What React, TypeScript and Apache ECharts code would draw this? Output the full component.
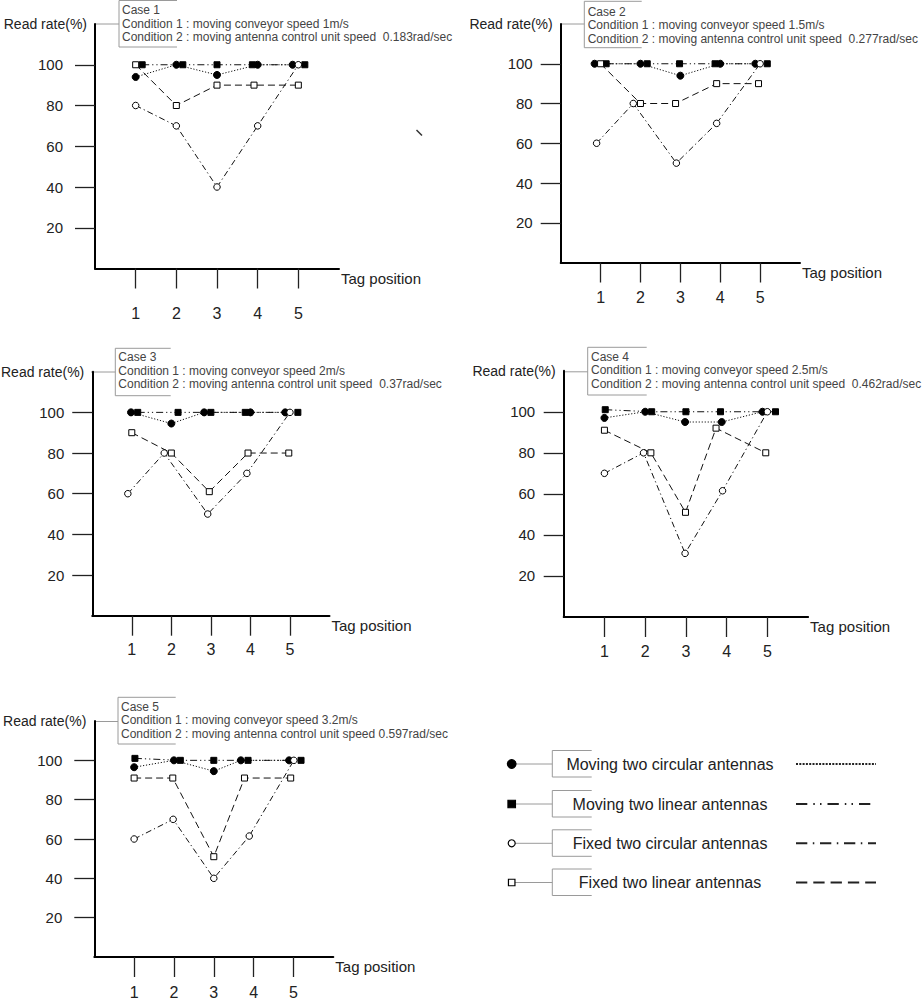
import React, { useEffect, useRef } from "react";
import * as echarts from "echarts";

// ---------- data ----------
const TAGS = [1, 2, 3, 4, 5];
const Y_TICKS = [20, 40, 60, 80, 100];
const SERIES_NAMES = [
  "Moving two circular antennas",
  "Moving two linear antennas",
  "Fixed two circular antennas",
  "Fixed two linear antennas",
];

const CASE_TEXTS = [
  ["Case 1", "Condition 1 : moving conveyor speed 1m/s", "Condition 2 : moving antenna control unit speed  0.183rad/sec"],
  ["Case 2", "Condition 1 : moving conveyor speed 1.5m/s", "Condition 2 : moving antenna control unit speed  0.277rad/sec"],
  ["Case 3", "Condition 1 : moving conveyor speed 2m/s", "Condition 2 : moving antenna control unit speed  0.37rad/sec"],
  ["Case 4", "Condition 1 : moving conveyor speed 2.5m/s", "Condition 2 : moving antenna control unit speed  0.462rad/sec"],
  ["Case 5", "Condition 1 : moving conveyor speed 3.2m/s", "Condition 2 : moving antenna control unit speed 0.597rad/sec"],
];

// Case 1
const C1_MC_X = [1, 2, 3, 4, 4.86];
const C1_MC = [94, 100, 95, 100, 100];
const C1_ML_X = [1.16, 2.16, 3, 3.87, 5.16];
const C1_ML = [100, 100, 100, 100, 100];
const C1_FC_X = [1, 2, 3, 4, 5];
const C1_FC = [80, 70, 40, 70, 100];
const C1_FL_X = [1, 2, 3, 3.91, 5];
const C1_FL = [100, 80, 90, 90, 90];

// Case 2
const C2_MC_X = [0.85, 2, 3, 4, 4.88];
const C2_MC = [100, 100, 94, 100, 100];
const C2_ML_X = [1.14, 2.17, 2.98, 3.87, 5.18];
const C2_ML = [100, 100, 100, 100, 100];
const C2_FC_X = [0.9, 1.82, 2.9, 3.91, 5];
const C2_FC = [60, 80, 50, 70, 100];
const C2_FL_X = [1, 2, 2.88, 3.91, 4.96];
const C2_FL = [100, 80, 80, 90, 90];

// Case 3
const C3_MC_X = [0.98, 2, 2.83, 4, 4.88];
const C3_MC = [100, 94.5, 100, 100, 100];
const C3_ML_X = [1.15, 2.17, 3, 3.87, 5.2];
const C3_ML = [100, 100, 100, 100, 100];
const C3_FC_X = [0.9, 1.82, 2.92, 3.91, 5];
const C3_FC = [60, 80, 50, 70, 100];
const C3_FL_X = [1, 2, 2.96, 3.94, 4.97];
const C3_FL = [90, 80, 61, 80, 80];

// Case 4
const C4_MC_X = [1, 2, 2.98, 3.88, 4.88];
const C4_MC = [97, 100, 95, 95, 100];
const C4_ML_X = [1.02, 2.16, 3, 3.85, 5.2];
const C4_ML = [101, 100, 100, 100, 100];
const C4_FC_X = [1, 1.96, 2.98, 3.9, 5];
const C4_FC = [70, 80, 31, 61.5, 100];
const C4_FL_X = [1, 2.14, 2.99, 3.74, 4.96];
const C4_FL = [91, 80, 51, 92, 80];

// Case 5
const C5_MC_X = [1, 2, 3, 3.68, 4.89];
const C5_MC = [96.5, 100, 94.5, 100, 100];
const C5_ML_X = [1.02, 2.16, 3, 3.86, 5.19];
const C5_ML = [101, 100, 100, 100, 100];
const C5_FC_X = [1, 1.98, 3, 3.89, 5.01];
const C5_FC = [60, 70, 40, 61.5, 100];
const C5_FL_X = [1, 1.97, 3, 3.77, 4.93];
const C5_FL = [91, 91, 51, 91, 91];

const CASE_SERIES = [
  [[C1_MC_X, C1_MC], [C1_ML_X, C1_ML], [C1_FC_X, C1_FC], [C1_FL_X, C1_FL]],
  [[C2_MC_X, C2_MC], [C2_ML_X, C2_ML], [C2_FC_X, C2_FC], [C2_FL_X, C2_FL]],
  [[C3_MC_X, C3_MC], [C3_ML_X, C3_ML], [C3_FC_X, C3_FC], [C3_FL_X, C3_FL]],
  [[C4_MC_X, C4_MC], [C4_ML_X, C4_ML], [C4_FC_X, C4_FC], [C4_FL_X, C4_FL]],
  [[C5_MC_X, C5_MC], [C5_ML_X, C5_ML], [C5_FC_X, C5_FC], [C5_FL_X, C5_FL]],
];

// ---------- layout & style ----------
const FONT = "'Liberation Sans', Arial, sans-serif";

const LAYOUT = [
  { left: 95, top: 24, width: 244, height: 244.5, ym: 32, xm: 37, box: [119, 0.5, 47, 177], tx: 122, ty: 3.3, cy: 24 },
  { left: 560.7, top: 24, width: 239.3, height: 238.5, ym: 28, xm: 27, box: [584.3, 1.3, 47.7, 641.7], tx: 587.7, ty: 5, cy: 24 },
  { left: 91, top: 371.7, width: 238.5, height: 244, ym: 28, xm: 26, box: [115.3, 348.3, 395.7, 170.7], tx: 118.3, ty: 350.6, cy: 372 },
  { left: 563.7, top: 370.7, width: 244.4, height: 246.3, ym: 28.5, xm: 26.5, box: [587.7, 347.3, 395, 646.7], tx: 591, ty: 350, cy: 371.8 },
  { left: 94.3, top: 721, width: 239, height: 238.5, ym: 32, xm: 27, box: [118, 697.3, 744, 175.7], tx: 121, ty: 700, cy: 721.5 },
];

const SERIES_STYLE = [
  { symbol: "circle", size: 7, fill: "#000", dash: [1.2, 1.8] },
  { symbol: "rect", size: 6, fill: "#000", dash: [7, 3, 1.2, 3, 1.2, 3] },
  { symbol: "circle", size: 6.5, fill: "#fff", dash: [6, 3, 1.2, 3] },
  { symbol: "rect", size: 6, fill: "#fff", dash: [7, 4] },
];

const LEGEND_ROWS = [
  { y: 764, dash: [2, 1.3] },
  { y: 804, dash: [11.3, 6, 1.5, 5.2, 1.5, 6] },
  { y: 843.3, dash: [11.3, 5.5, 1.5, 5.7] },
  { y: 882.5, dash: [11.3, 6] },
];

function buildOption() {
  const grid = LAYOUT.map((l) => ({ left: l.left, top: l.top, width: l.width, height: l.height }));
  const xAxis = LAYOUT.map((l, i) => ({
    type: "value",
    gridIndex: i,
    min: 0,
    max: 6,
    interval: 1,
    name: "Tag position",
    nameLocation: "end",
    nameGap: 2,
    nameTextStyle: { fontSize: 15, color: "#222", fontFamily: FONT, align: "left", verticalAlign: "top", padding: [2, 0, 0, 0] },
    axisLine: { show: true, onZero: false, lineStyle: { color: "#000", width: 2 } },
    axisTick: { show: true, length: 20, customValues: TAGS, lineStyle: { color: "#222", width: 1.3 } },
    axisLabel: { customValues: TAGS, margin: l.xm, fontSize: 16, color: "#222", fontFamily: FONT },
    splitLine: { show: false },
  }));
  const yAxis = LAYOUT.map((l, i) => ({
    type: "value",
    gridIndex: i,
    min: 0,
    max: 120,
    interval: 20,
    name: "Read rate(%)",
    nameLocation: "end",
    nameGap: 0,
    nameTextStyle: { fontSize: 14, color: "#222", fontFamily: FONT, align: "right", verticalAlign: "middle", padding: [0, 8, 0, 0] },
    axisLine: { show: true, onZero: false, lineStyle: { color: "#000", width: 2 } },
    axisTick: { show: true, length: 20, customValues: Y_TICKS, lineStyle: { color: "#222", width: 1.3 } },
    axisLabel: { customValues: Y_TICKS, margin: l.ym, fontSize: 15, color: "#222", fontFamily: FONT },
    splitLine: { show: false },
  }));

  const series: any[] = [];
  CASE_SERIES.forEach((caseData, ci) => {
    caseData.forEach(([xs, ys], si) => {
      const st = SERIES_STYLE[si];
      series.push({
        type: "line",
        name: SERIES_NAMES[si],
        xAxisIndex: ci,
        yAxisIndex: ci,
        data: xs.map((x, k) => [x, ys[k]]),
        symbol: st.symbol,
        symbolSize: st.size,
        showAllSymbol: true,
        z: st.fill === "#fff" ? 3 : 2,
        itemStyle: { color: st.fill, borderColor: "#000", borderWidth: 1 },
        lineStyle: { color: "#111", width: 1, type: st.dash },
        emphasis: { disabled: true },
      });
    });
  });

  const graphic: any[] = [];
  LAYOUT.forEach((l, i) => {
    const [bx, bt, bb, br] = l.box;
    graphic.push({
      type: "polyline",
      shape: { points: [[br, bt], [bx, bt], [bx, bb], [br, bb]] },
      style: { stroke: "#9a9a9a", fill: null, lineWidth: 1 },
      silent: true,
    });
    graphic.push({
      type: "line",
      shape: { x1: l.left, y1: l.cy, x2: bx, y2: l.cy },
      style: { stroke: "#9a9a9a", lineWidth: 1 },
      silent: true,
    });
    graphic.push({
      type: "text",
      x: l.tx,
      y: l.ty,
      style: {
        text: CASE_TEXTS[i].join("\n"),
        fontSize: 12,
        fontFamily: FONT,
        fill: "#444",
        lineHeight: 13.5,
        verticalAlign: "top",
        align: "left",
      },
      silent: true,
    });
  });
  // stray mark from the original figure
  graphic.push({
    type: "line",
    shape: { x1: 416.5, y1: 130, x2: 422, y2: 135.5 },
    style: { stroke: "#333", lineWidth: 1.5 },
    silent: true,
  });

  // legend panel
  LEGEND_ROWS.forEach((r, i) => {
    const st = SERIES_STYLE[i];
    graphic.push({
      type: "line",
      shape: { x1: 511.7, y1: r.y, x2: 552.3, y2: r.y },
      style: { stroke: "#9a9a9a", lineWidth: 1 },
      silent: true,
    });
    if (st.symbol === "circle") {
      graphic.push({
        type: "circle",
        shape: { cx: 511.7, cy: r.y, r: st.fill === "#000" ? 4.3 : 3.5 },
        style: { fill: st.fill, stroke: "#000", lineWidth: 1.2 },
        silent: true,
      });
    } else {
      const s = st.fill === "#000" ? 7.5 : 6.5;
      graphic.push({
        type: "rect",
        shape: { x: 511.7 - s / 2, y: r.y - s / 2, width: s, height: s },
        style: { fill: st.fill, stroke: "#000", lineWidth: 1.2 },
        silent: true,
      });
    }
    graphic.push({
      type: "polyline",
      shape: { points: [[591.7, r.y - 13.5], [552.3, r.y - 13.5], [552.3, r.y + 13], [591.7, r.y + 13]] },
      style: { stroke: "#9a9a9a", fill: null, lineWidth: 1 },
      silent: true,
    });
    graphic.push({
      type: "text",
      x: 670,
      y: r.y,
      style: { text: SERIES_NAMES[i], fontSize: 16, fontFamily: FONT, fill: "#222", align: "center", verticalAlign: "middle" },
      silent: true,
    });
    graphic.push({
      type: "line",
      shape: { x1: 796, y1: r.y, x2: 876, y2: r.y },
      style: { stroke: "#222", lineWidth: 2, lineDash: r.dash },
      silent: true,
    });
  });

  return {
    animation: false,
    backgroundColor: "#fff",
    textStyle: { fontFamily: FONT },
    grid,
    xAxis,
    yAxis,
    series,
    graphic,
  };
}

export default function App() {
  const ref = useRef<HTMLDivElement>(null);
  useEffect(() => {
    if (!ref.current) return;
    const chart = echarts.init(ref.current, undefined, { renderer: "svg" });
    chart.setOption(buildOption() as any);
    return () => chart.dispose();
  }, []);
  return (
    <div
      ref={ref}
      style={{ position: "absolute", left: 0, top: 0, width: 923, height: 1000, background: "#fff" }}
    />
  );
}
